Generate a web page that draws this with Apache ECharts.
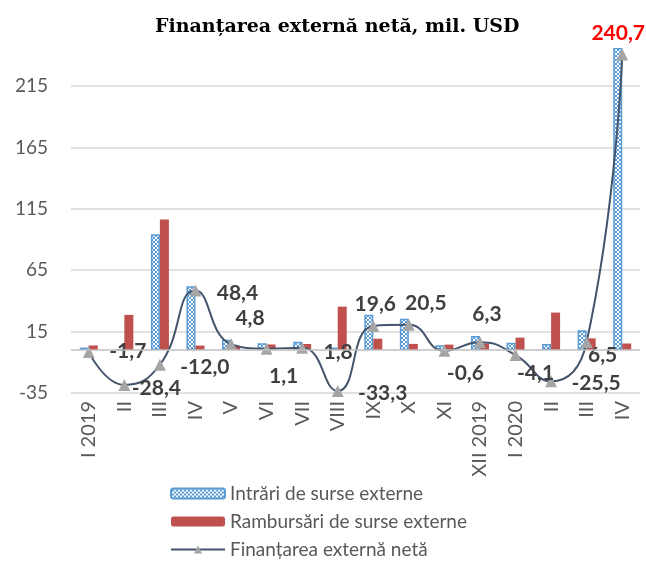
<!DOCTYPE html>
<html>
<head>
<meta charset="UTF-8">
<title>Finanțarea externă netă</title>
<style>
html, body {
	margin: 0;
	padding: 0;
	background: #fff;
}
</style>
</head>
<body>
	<div id="main" style="width: 646px; height: 565px;"></div>
	<script src="https://cdn.jsdelivr.net/npm/echarts@6/dist/echarts.min.js"></script>
	<script>
		// luni
		var luni = ['I 2019', 'II', 'III', 'IV', 'V', 'VI', 'VII', 'VIII', 'IX', 'X', 'XI', 'XII 2019', 'I 2020', 'II', 'III', 'IV'];
		// mil. USD
		var intrari = [2.0, 0.2, 94.3, 52.0, 8.3, 5.6, 6.7, 2.0, 28.8, 25.5, 3.8, 11.5, 6.0, 5.0, 16.0, 246.0];
		var rambursari = [3.7, 28.6, 106.3, 3.6, 3.5, 4.5, 4.9, 35.3, 9.2, 5.0, 4.4, 5.2, 10.1, 30.5, 9.5, 5.3];
		var neta = [-1.7, -28.4, -12.0, 48.4, 4.8, 1.1, 1.8, -33.3, 19.6, 20.5, -0.6, 6.3, -4.1, -25.5, 6.5, 240.7];
		var yTicks = [-35, 15, 65, 115, 165, 215];

		// pozitia etichetelor (px fata de punct)
		var labelOffsets = [[39, -1], [32, 3], [45, 2], [42, 3], [19, -26], [17, 28], [36, 4], [45, 2],
			[2, -22], [17, -22], [21, 22], [7, -28], [20, 18], [45, 2], [16, 13], [-4, -21]];

		// hasura pentru bara albastra
		var tile = document.createElement('canvas');
		tile.width = 4;
		tile.height = 4;
		var ctx = tile.getContext('2d');
		ctx.fillStyle = '#5B9BD5';
		ctx.fillRect(0, 0, 4, 4);
		ctx.fillStyle = '#FFFFFF';
		ctx.fillRect(1, 0, 2, 1);
		ctx.fillRect(0, 1, 4, 2);
		ctx.fillRect(1, 3, 2, 1);
		ctx.fillStyle = '#5B9BD5';
		ctx.fillRect(1, 1, 2, 2);
		var hasura = { image: tile, repeat: 'repeat' };

		var netaData = [];
		for (var i = 0; i < neta.length; i++) {
			netaData.push({
				value : neta[i],
				label : {
					offset : labelOffsets[i],
					color : i == neta.length - 1 ? '#FF0000' : '#404040'
				}
			});
		}

		var font = 'Lato, "Open Sans", sans-serif';
		var myChart = echarts.init(document.getElementById('main'));
		var option = {
			animation : false,
			title : {
				text : 'Finanțarea externă netă, mil. USD',
				left : 150,
				top : 13,
				textStyle : {
					fontFamily : '"DejaVu Serif", serif',
					fontWeight : 'bold',
					fontSize : 19,
					color : '#000'
				}
			},
			legend : {
				orient : 'vertical',
				left : 165,
				top : 479,
				height : 86,
				itemWidth : 54,
				itemHeight : 10,
				itemGap : 9,
				textStyle : {
					fontFamily : font,
					fontSize : 19,
					color : '#595959'
				},
				data : [ 'Intrări de surse externe', 'Rambursări de surse externe', 'Finanțarea externă netă' ]
			},
			grid : {
				left : 71,
				right : 6,
				top : 43,
				bottom : 172,
				containLabel : false
			},
			xAxis : {
				type : 'category',
				data : luni,
				axisLine : { show : false, onZero : false },
				axisTick : { show : false },
				axisLabel : {
					rotate : 90,
					margin : 8,
					fontFamily : font,
					fontSize : 20,
					color : '#595959'
				}
			},
			yAxis : {
				type : 'value',
				min : -35,
				max : 250,
				interval : 50,
				axisLine : { show : false },
				axisTick : { show : false },
				axisLabel : {
					showMaxLabel : false,
					margin : 23,
					fontFamily : font,
					fontSize : 19,
					color : '#595959',
					formatter : function(v) {
						return yTicks.indexOf(v) >= 0 ? String(v) : '';
					}
				},
				splitLine : {
					showMaxLine : false,
					lineStyle : { color : '#D9D9D9', width : 1.5 }
				}
			},
			series : [ {
				name : 'Intrări de surse externe',
				type : 'bar',
				barWidth : 9,
				barGap : '0%',
				itemStyle : {
					color : hasura,
					borderColor : '#5B9BD5',
					borderWidth : 1.5
				},
				data : intrari,
				markLine : {
					silent : true,
					symbol : 'none',
					label : { show : false },
					lineStyle : { color : '#BFBFBF', type : 'solid', width : 1.5 },
					data : [ { yAxis : 0 } ]
				}
			}, {
				name : 'Rambursări de surse externe',
				type : 'bar',
				barWidth : 9,
				barGap : '0%',
				itemStyle : { color : '#C0504D' },
				data : rambursari
			}, {
				name : 'Finanțarea externă netă',
				type : 'line',
				smooth : 0.5,
				symbol : 'triangle',
				symbolSize : 12,
				lineStyle : { color : '#44546A', width : 2 },
				itemStyle : { color : '#A5A5A5' },
				label : {
					show : true,
					position : 'inside',
					fontFamily : font,
					fontWeight : 'bold',
					fontSize : 21,
					formatter : function(p) {
						return p.value.toFixed(1).replace('.', ',');
					}
				},
				data : netaData
			} ]
		};
		myChart.setOption(option);
	</script>
</body>
</html>
